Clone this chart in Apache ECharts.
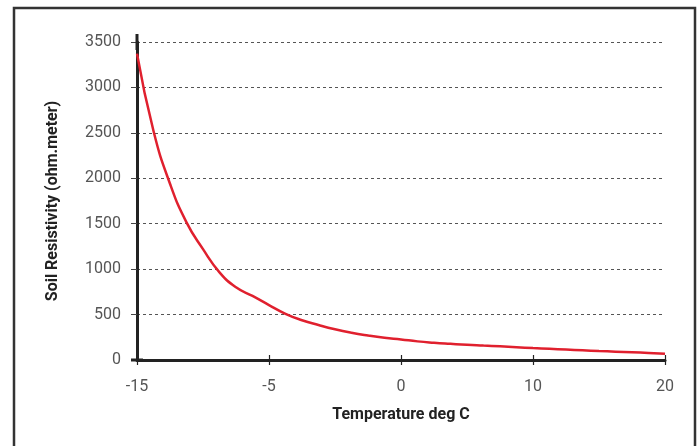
<!DOCTYPE html>
<html>
<head>
<meta charset="utf-8">
<script src="https://cdn.jsdelivr.net/npm/echarts@6/dist/echarts.min.js"></script>
<style>
  html, body { margin: 0; padding: 0; background: #fff; }
  #chart { width: 700px; height: 446px; }
</style>
</head>
<body>
<div id="chart"></div>
<script>
// temperature categories (evenly spaced on the chart, only -15/-5/0/10/20 labelled)
const temps = [
  '-15', '-13.75', '-12.5', '-11.25', '-10', '-8.75', '-7.5', '-6.25',
  '-5', '-4.375', '-3.75', '-3.125', '-2.5', '-1.875', '-1.25', '-0.625',
  '0', '1.25', '2.5', '3.75', '5', '6.25', '7.5', '8.75',
  '10', '11.25', '12.5', '13.75', '15', '16.25', '17.5', '18.75', '20'
];
// soil resistivity (ohm.meter)
const resistivity = [
  3372, 2520, 1940, 1515, 1220, 965, 800, 705,
  605, 508, 438, 385, 338, 300, 270, 245,
  226, 205, 190, 178, 167, 159, 151, 141,
  131, 123, 115, 107, 99, 92, 85, 78, 70
];
const yTicks = [0, 3500, 500]; // min, max, step

const chart = echarts.init(document.getElementById('chart'));

const axisColor = '#222';
const labelFont = { fontFamily: 'Roboto', fontSize: 16, color: '#555' };
const nameFont = { fontFamily: 'Roboto', fontSize: 16, fontWeight: 'bold', color: '#222' };

chart.setOption({
  animation: false,
  textStyle: { fontFamily: 'Roboto' },
  graphic: [{
    type: 'rect',
    shape: { x: 14, y: 8, width: 681, height: 470 },
    style: { fill: 'none', stroke: '#333', lineWidth: 2.5 },
    silent: true
  }],
  grid: { left: 137, right: 35, top: 42, bottom: 86 },
  xAxis: [
    {
      type: 'category',
      data: temps,
      boundaryGap: false,
      name: 'Temperature deg C',
      nameLocation: 'middle',
      nameGap: 47,
      nameTextStyle: nameFont,
      axisLine: { lineStyle: { color: axisColor, width: 3 }, symbol: ['rect', 'none'], symbolSize: [3, 12] },
      axisTick: { show: true, interval: 7, length: 5, lineStyle: { color: axisColor, width: 1.2 } },
      axisLabel: Object.assign({ interval: 7, margin: 19 }, labelFont),
      splitLine: { show: false }
    },
    {
      type: 'category',
      data: temps,
      boundaryGap: false,
      position: 'bottom',
      axisLine: { show: false },
      axisTick: { show: true, inside: true, interval: 7, length: 5, lineStyle: { color: axisColor, width: 1.2 } },
      axisLabel: { show: false },
      splitLine: { show: false }
    }
  ],
  yAxis: {
    type: 'value',
    min: yTicks[0],
    max: yTicks[1],
    interval: yTicks[2],
    name: 'Soil Resistivity (ohm.meter)',
    nameLocation: 'middle',
    nameGap: 76,
    nameTextStyle: nameFont,
    axisLine: { show: true, lineStyle: { color: axisColor, width: 3 }, symbol: ['none', 'rect'], symbolSize: [3, 16] },
    axisTick: { show: true, length: 6, lineStyle: { color: '#444', width: 1 } },
    axisLabel: Object.assign({ margin: 16, formatter: (v) => String(v) }, labelFont),
    splitLine: { show: true, lineStyle: { color: '#555', type: [3, 3], width: 1 } }
  },
  series: [{
    type: 'line',
    data: resistivity,
    smooth: 0.5,
    showSymbol: false,
    lineStyle: { color: '#e0202e', width: 2.5 },
    z: 5
  }]
});
</script>
</body>
</html>
